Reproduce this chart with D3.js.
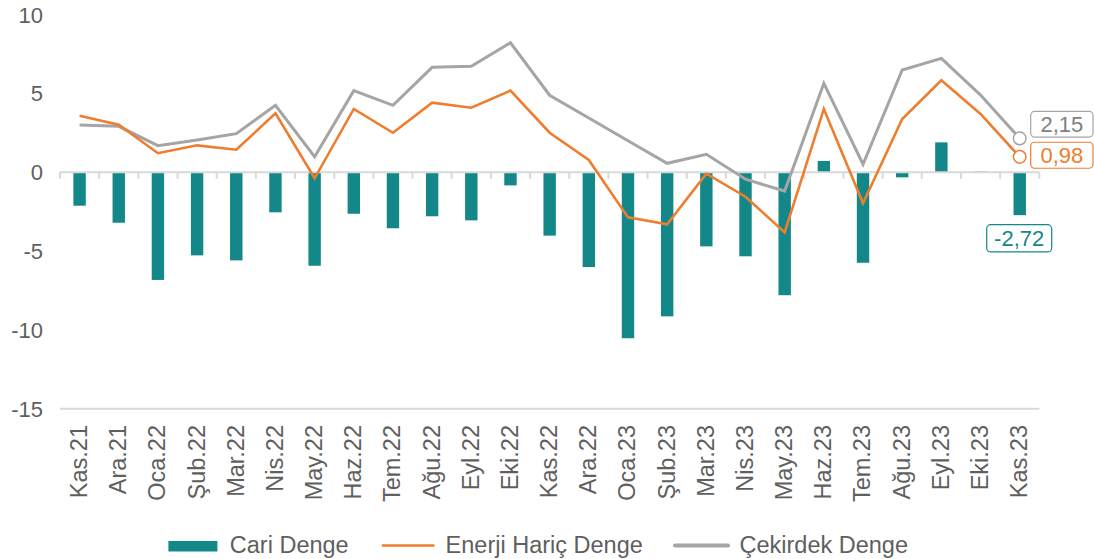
<!DOCTYPE html>
<html>
<head>
<meta charset="utf-8">
<script src="https://cdn.jsdelivr.net/npm/d3@7"></script>
<style>
  html, body { margin: 0; padding: 0; background: #fff; }
  svg { display: block; font-family: "Liberation Sans", Arial, sans-serif; }
</style>
</head>
<body>
<svg id="chart" width="1094" height="559"></svg>
<script>
const categories = ["Kas.21","Ara.21","Oca.22","Şub.22","Mar.22","Nis.22","May.22","Haz.22","Tem.22","Ağu.22","Eyl.22","Eki.22",
  "Kas.22","Ara.22","Oca.23","Şub.23","Mar.23","Nis.23","May.23","Haz.23","Tem.23","Ağu.23","Eyl.23","Eki.23","Kas.23"];
const cariDenge = [-2.12,-3.20,-6.83,-5.27,-5.59,-2.54,-5.93,-2.63,-3.55,-2.79,-3.05,-0.83,
  -4.02,-6.01,-10.53,-9.14,-4.70,-5.33,-7.80,0.72,-5.74,-0.32,1.90,0.05,-2.72];
const enerjiHaric = [3.59,3.02,1.21,1.71,1.43,3.74,-0.38,4.02,2.51,4.42,4.10,5.18,
  2.51,0.78,-2.86,-3.30,-0.09,-1.55,-3.81,4.02,-1.97,3.38,5.84,3.70,0.98];
const cekirdek = [3.00,2.92,1.69,2.05,2.45,4.25,0.99,5.18,4.25,6.66,6.73,8.22,
  4.89,3.45,2.00,0.57,1.14,-0.44,-1.19,5.65,0.51,6.49,7.23,4.90,2.15];
const yTicks = [10,5,0,-5,-10,-15];
const seriesNames = ["Cari Denge","Enerji Hariç Denge","Çekirdek Denge"];
const endLabels = ["-2,72","0,98","2,15"];

const C_TEAL = "#148888", C_ORANGE = "#EE7D2E", C_GRAY = "#A5A5A5", C_TEXT = "#5f5f5f", C_AXIS = "#D9D9D9";

const svg = d3.select("#chart");
const xb = d3.scaleBand().domain(categories).range([60, 1039.3]);
const y = d3.scaleLinear().domain([-15, 10]).range([408.7, 14.7]);

// y labels
svg.append("g").selectAll("text").data(yTicks).join("text")
  .attr("x", 43).attr("y", d => y(d)).attr("dy", "0.36em")
  .attr("text-anchor", "end").attr("font-size", 22).attr("fill", C_TEXT)
  .text(d => d);

// bottom line at -15
svg.append("line").attr("x1", 60).attr("x2", 1039.3).attr("y1", y(-15)).attr("y2", y(-15))
  .attr("stroke", C_AXIS).attr("stroke-width", 2);

// bars
svg.append("g").selectAll("rect").data(cariDenge).join("rect")
  .attr("x", (d, i) => xb(categories[i]) + xb.bandwidth() / 2 - 6.2)
  .attr("width", 12.4)
  .attr("y", d => y(Math.max(0, d)))
  .attr("height", d => Math.abs(y(d) - y(0)))
  .attr("fill", C_TEAL);

// zero axis with ticks
svg.append("line").attr("x1", 60).attr("x2", 1039.3).attr("y1", y(0)).attr("y2", y(0))
  .attr("stroke", C_AXIS).attr("stroke-width", 2);
const tickPos = categories.map(c => xb(c)).concat([xb.range()[1]]);
svg.append("g").selectAll("line").data(tickPos).join("line")
  .attr("x1", d => d).attr("x2", d => d).attr("y1", y(0)).attr("y2", y(0) + 6.5)
  .attr("stroke", C_AXIS).attr("stroke-width", 2);

// lines
const cx = i => xb(categories[i]) + xb.bandwidth() / 2;
const lineGen = d3.line().x((d, i) => cx(i)).y(d => y(d));
svg.append("path").datum(cekirdek).attr("d", lineGen).attr("fill", "none")
  .attr("stroke", C_GRAY).attr("stroke-width", 3).attr("stroke-linejoin", "miter");
svg.append("path").datum(enerjiHaric).attr("d", lineGen).attr("fill", "none")
  .attr("stroke", C_ORANGE).attr("stroke-width", 2.6).attr("stroke-linejoin", "miter");

// end markers
const last = categories.length - 1;
svg.append("circle").attr("cx", cx(last)).attr("cy", y(cekirdek[last])).attr("r", 6.3)
  .attr("fill", "#fff").attr("stroke", C_GRAY).attr("stroke-width", 1.5);
svg.append("circle").attr("cx", cx(last)).attr("cy", y(enerjiHaric[last])).attr("r", 6.3)
  .attr("fill", "#fff").attr("stroke", C_ORANGE).attr("stroke-width", 1.5);

// end labels
function box(xl, yt, w, h, color, textColor, txt) {
  svg.append("rect").attr("x", xl).attr("y", yt).attr("width", w).attr("height", h)
    .attr("rx", 4).attr("fill", "#fff").attr("stroke", color).attr("stroke-width", 1.2);
  svg.append("text").attr("x", xl + w / 2).attr("y", yt + h / 2).attr("dy", "0.36em")
    .attr("text-anchor", "middle").attr("font-size", 22).attr("fill", textColor).text(txt);
}
box(1030.7, y(cekirdek[last]) - 27, 62.3, 25.7, C_GRAY, "#7F7F7F", endLabels[2]);
box(1030.7, y(enerjiHaric[last]) - 14.6, 62.3, 26, C_ORANGE, C_ORANGE, endLabels[1]);
box(986.7, y(cariDenge[last]) + 9.5, 65, 27.3, C_TEAL, C_TEAL, endLabels[0]);

// x labels
svg.append("g").selectAll("text").data(categories).join("text")
  .attr("transform", d => `translate(${xb(d) + xb.bandwidth() / 2 - 1},425) rotate(-90)`)
  .attr("text-anchor", "end").attr("dy", "0.36em")
  .attr("font-size", 23.5).attr("fill", C_TEXT).text(d => d);

// legend
const lg = svg.append("g");
lg.append("rect").attr("x", 168.4).attr("y", 541).attr("width", 49).attr("height", 10.5).attr("fill", C_TEAL);
lg.append("text").attr("x", 229.8).attr("y", 553).attr("font-size", 23.5).attr("fill", C_TEXT).text(seriesNames[0]);
lg.append("line").attr("x1", 381.8).attr("x2", 434.4).attr("y1", 545.5).attr("y2", 545.5)
  .attr("stroke", C_ORANGE).attr("stroke-width", 2.6);
lg.append("text").attr("x", 445.6).attr("y", 553).attr("font-size", 23.5).attr("fill", C_TEXT).text(seriesNames[1]);
lg.append("line").attr("x1", 675).attr("x2", 728).attr("y1", 545.5).attr("y2", 545.5)
  .attr("stroke", C_GRAY).attr("stroke-width", 4).attr("stroke-linecap", "round");
lg.append("text").attr("x", 739.5).attr("y", 553).attr("font-size", 23.5).attr("fill", C_TEXT).text(seriesNames[2]);
</script>
</body>
</html>
